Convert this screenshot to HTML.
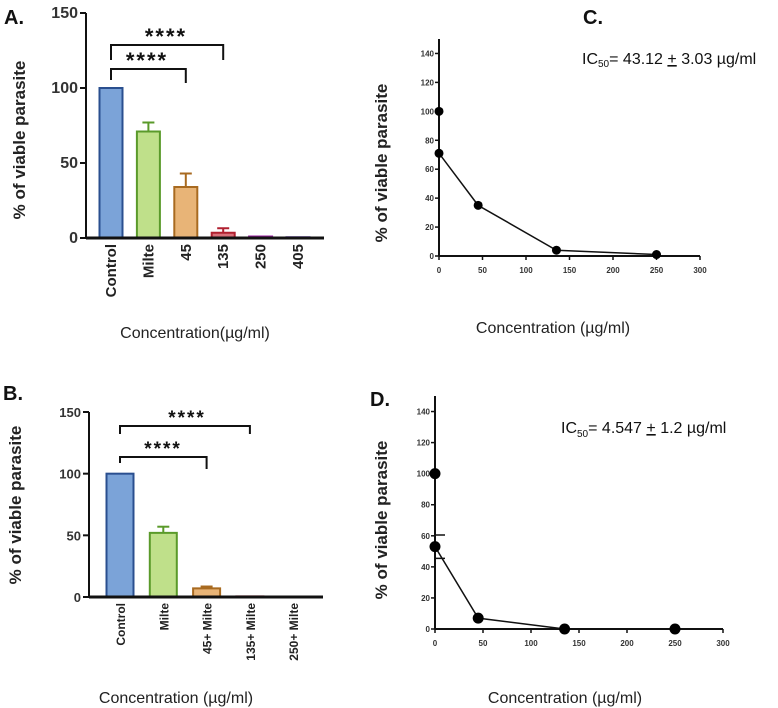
<!DOCTYPE html>
<html><head><meta charset="utf-8"><style>
body{margin:0;background:#fff;}
svg{display:block;font-family:"Liberation Sans",Arial,sans-serif;}
</style></head><body>
<svg id="s" width="778" height="708" viewBox="0 0 778 708"></svg>
<script>
// Panel A data
const aCats=["Control","Milte","45","135","250","405"];
const aVals=[100,71,34,3.5,1,0.5];
const aErr=[0,6,9,3,0,0];
const aFill=["#7ba3d8","#bfe08a","#e8b477","#d9707a","#c27ad0","#8a7ad8"];
const aStroke=["#2a4f8f","#5a9a2a","#a86a20","#b02030","#9a20a0","#5a30b0"];
const aTicks=[0,50,100,150];
// Panel B data
const bCats=["Control","Milte","45+  Milte","135+  Milte","250+  Milte"];
const bVals=[100,52,7,0.5,0];
const bErr=[0,5,1.5,0,0];
const bFill=["#7ba3d8","#bfe08a","#e8b477","#d9707a","#888"];
const bStroke=["#2a4f8f","#5a9a2a","#a86a20","#b02030","#555"];
const bTicks=[0,50,100,150];
// Panel C data
const cX=[0,0,45,135,250];
const cY=[100,71,35,4,1];
// Panel D data
const dX=[0,0,45,135,250];
const dY=[100,53,7,0,0];
const dErr=[0,7.5,0,0,0];
const lineXTicks=[0,50,100,150,200,250,300];
const lineYTicks=[0,20,40,60,80,100,120,140];

const S=document.getElementById('s');
const NS="http://www.w3.org/2000/svg";
function el(t,a,txt){const e=document.createElementNS(NS,t);for(const k in a)e.setAttribute(k,a[k]);if(txt!==undefined)e.textContent=txt;S.appendChild(e);return e;}

function barPanel(o){
  const y=v=>o.y0-(v/150)*(o.y0-o.y150);
  const x=i=>o.x0c+i*o.step;
  const ax=el('line',{x1:o.ax,y1:o.y150,x2:o.ax,y2:o.y0+1,stroke:'#111','stroke-width':2});
  
  o.ticks.forEach(t=>{
    const l=el('line',{x1:o.ax-6,y1:y(t),x2:o.ax,y2:y(t),stroke:'#111','stroke-width':2});
    
    const tx=el('text',{x:o.ax-8,y:y(t)+5,'text-anchor':'end','font-size':o.tfs,'font-weight':'bold',fill:'#333'},t);
    
  });
  o.vals.forEach((v,i)=>{
    const cx=x(i),h=Math.max(o.y0-y(v),0.5);
    if(o.err[i]>0){
      const e1=el('line',{x1:cx,y1:y(v),x2:cx,y2:y(v+o.err[i]),stroke:o.stroke[i],'stroke-width':2});
      
      const e2=el('line',{x1:cx-6,y1:y(v+o.err[i]),x2:cx+6,y2:y(v+o.err[i]),stroke:o.stroke[i],'stroke-width':2});
      
    }
    const r=el('rect',{x:cx-o.bw/2,y:o.y0-h,width:o.bw,height:h,fill:o.fill[i],stroke:o.stroke[i],'stroke-width':2});
    
    const tx=el('text',{x:0,y:0,transform:`translate(${cx+5},${o.y0+6}) rotate(-90)`,'text-anchor':'end','font-size':o.lfs,'font-weight':'bold',fill:'#222'},o.cats[i]);
    
  });
  const xa=el('line',{x1:o.ax,y1:o.y0,x2:o.xend,y2:o.y0,stroke:'#111','stroke-width':3});
  
  o.brackets.forEach(b=>{
    const p=el('path',{d:`M${x(0)},${b.yl} V${b.y} H${x(b.to)} V${b.yr}`,fill:'none',stroke:'#111','stroke-width':2});
    
    const st=el('text',{x:b.sx,y:b.sy,'text-anchor':'middle','font-size':o.sfs,'font-weight':'bold',fill:'#111','letter-spacing':'2'},'****');
    
  });
}

barPanel({p:'a',cats:aCats,vals:aVals,err:aErr,fill:aFill,stroke:aStroke,ticks:aTicks,ax:86,y0:238,y150:13,x0c:111,step:37.4,bw:23,xend:324,tfs:16,lfs:15,sfs:22,
  brackets:[{y:69,yl:80,to:2,yr:83,sx:147,sy:68},{y:45,yl:60,to:3,yr:60,sx:166,sy:44}]});
barPanel({p:'b',cats:bCats,vals:bVals,err:bErr,fill:bFill,stroke:bStroke,ticks:bTicks,ax:89,y0:597,y150:412,x0c:120,step:43.3,bw:27,xend:323,tfs:13,lfs:12,sfs:19,
  brackets:[{y:457,yl:463,to:2,yr:469,sx:163,sy:455},{y:426,yl:434,to:3,yr:434,sx:187,sy:424}]});

function linePanel(o){
  const y=v=>o.y0-(v/150)*(o.y0-o.y150);
  const x=v=>o.x0+(v/300)*(o.x300-o.x0);
  const ya=el('line',{x1:o.x0,y1:o.y150,x2:o.x0,y2:o.y0,stroke:'#111','stroke-width':2});
  
  const xa=el('line',{x1:o.x0,y1:o.y0,x2:o.x300,y2:o.y0,stroke:'#111','stroke-width':2});
  
  lineYTicks.forEach(t=>{
    const l=el('line',{x1:o.x0-4,y1:y(t),x2:o.x0,y2:y(t),stroke:'#111','stroke-width':1.5});
    
    const tx=el('text',{x:o.x0-5,y:y(t)+3,'text-anchor':'end','font-size':8,'font-weight':'bold',fill:'#333'},t);
    
  });
  lineXTicks.forEach(t=>{
    const l=el('line',{x1:x(t),y1:o.y0,x2:x(t),y2:o.y0+4,stroke:'#111','stroke-width':1.5});
    
    const tx=el('text',{x:x(t),y:o.y0+17,'text-anchor':'middle','font-size':8,'font-weight':'bold',fill:'#333'},t);
    
  });
  const pts=o.xs.map((v,i)=>x(v)+','+y(o.ys[i])).join(' ');
  const pl=el('polyline',{points:pts,fill:'none',stroke:'#111','stroke-width':1.5});
  
  if(o.err) o.err.forEach((e,i)=>{ if(e>0){
    const cx=x(o.xs[i]);
    const p=el('path',{d:`M${cx},${y(o.ys[i]-e)} V${y(o.ys[i]+e)} M${cx-1},${y(o.ys[i]-e)} H${cx+10} M${cx-1},${y(o.ys[i]+e)} H${cx+10}`,fill:'none',stroke:'#111','stroke-width':1.5});
    
  }});
  o.xs.forEach((v,i)=>{
    const c=el('circle',{cx:x(v),cy:y(o.ys[i]),r:o.r,fill:'#000'});
    
  });
}
linePanel({p:'c',xs:cX,ys:cY,x0:439,x300:700,y0:256,y150:39,r:4.5});
linePanel({p:'d',xs:dX,ys:dY,err:dErr,x0:435,x300:723,y0:629,y150:396,r:5.5});

function txt(a,t,name){const e=el('text',a,t);return e;}
txt({x:4,y:24,'font-size':20,'font-weight':'bold',fill:'#111'},'A.','panel-a-label');
txt({x:3,y:400,'font-size':20,'font-weight':'bold',fill:'#111'},'B.','panel-b-label');
txt({x:583,y:24,'font-size':20,'font-weight':'bold',fill:'#111'},'C.','panel-c-label');
txt({x:370,y:406,'font-size':20,'font-weight':'bold',fill:'#111'},'D.','panel-d-label');
txt({x:0,y:0,transform:'translate(25,140) rotate(-90)','text-anchor':'middle','font-size':17,'font-weight':'bold',fill:'#222'},'% of viable parasite','a-y-axis-title');
txt({x:0,y:0,transform:'translate(21,505) rotate(-90)','text-anchor':'middle','font-size':17,'font-weight':'bold',fill:'#222'},'% of viable parasite','b-y-axis-title');
txt({x:0,y:0,transform:'translate(387,163) rotate(-90)','text-anchor':'middle','font-size':17,'font-weight':'bold',fill:'#222'},'% of viable parasite','c-y-axis-title');
txt({x:0,y:0,transform:'translate(387,520) rotate(-90)','text-anchor':'middle','font-size':17,'font-weight':'bold',fill:'#222'},'% of viable parasite','d-y-axis-title');
txt({x:195,y:338,'text-anchor':'middle','font-size':16,fill:'#222'},'Concentration(µg/ml)','a-x-axis-title');
txt({x:176,y:703,'text-anchor':'middle','font-size':16,fill:'#222'},'Concentration (µg/ml)','b-x-axis-title');
txt({x:553,y:333,'text-anchor':'middle','font-size':16,fill:'#222'},'Concentration (µg/ml)','c-x-axis-title');
txt({x:565,y:703,'text-anchor':'middle','font-size':16,fill:'#222'},'Concentration (µg/ml)','d-x-axis-title');
const ic1=txt({x:582,y:64,'font-size':16,fill:'#111'},'','c-ic50-annotation');
ic1.innerHTML='IC<tspan font-size="10" dy="3">50</tspan><tspan dy="-3">= 43.12 </tspan><tspan text-decoration="underline">+</tspan><tspan>  3.03 µg/ml</tspan>';
const ic2=txt({x:561,y:433,'font-size':16,fill:'#111'},'','d-ic50-annotation');
ic2.innerHTML='IC<tspan font-size="10" dy="4">50</tspan><tspan dy="-4">= 4.547 </tspan><tspan text-decoration="underline">+</tspan><tspan>  1.2 µg/ml</tspan>';
</script>
</body></html>
